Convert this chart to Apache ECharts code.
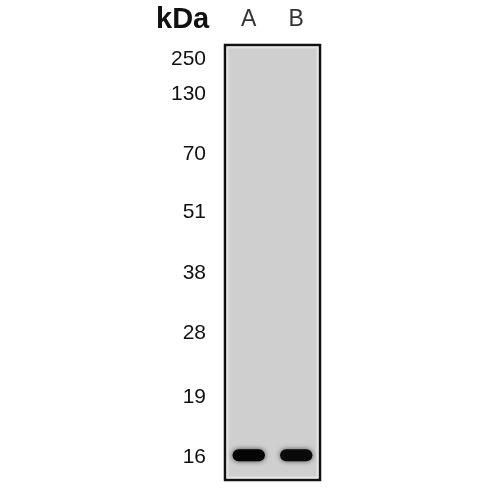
<!DOCTYPE html>
<html>
<head>
<meta charset="utf-8">
<script src="https://cdn.jsdelivr.net/npm/echarts@6/dist/echarts.min.js"></script>
<style>
html,body{margin:0;padding:0;background:#fff;}
#chart{width:500px;height:500px;}
</style>
</head>
<body>
<div id="chart"></div>
<script>
// Lanes
var lanes = ['A', 'B'];
// Ladder markers: molecular weight labels and relative migration (% of blot height from top)
var markerLabels = ['250', '130', '70', '51', '38', '28', '19', '16'];
var markerMigration = [3.2, 11.2, 25.0, 38.5, 52.5, 66.3, 81.0, 94.7];
// Detected bands: lane, relative migration, intensity (0..1)
var bandLanes = ['A', 'B'];
var bandMigration = [94.3, 94.3];
var bandIntensity = [1.0, 0.95];

var chart = echarts.init(document.getElementById('chart'), null, {renderer: 'canvas'});
var FONT = '"Liberation Sans", Arial, sans-serif';

var bandData = bandLanes.map(function (l, i) {
  return [l, bandMigration[i], bandIntensity[i]];
});

var labelMap = {};
markerMigration.forEach(function (v, i) { labelMap[v] = markerLabels[i]; });

chart.setOption({
  animation: false,
  backgroundColor: '#ffffff',
  title: {
    text: 'kDa',
    left: 151,
    top: 0,
    textStyle: {fontFamily: FONT, fontSize: 29, fontWeight: 'bold', color: '#111'}
  },
  grid: {
    left: 225, top: 45, width: 95, height: 435,
    show: true,
    backgroundColor: '#cfcfcf',
    borderColor: '#111',
    borderWidth: 2.5
  },
  xAxis: {
    type: 'category',
    data: lanes,
    position: 'top',
    axisLine: {show: false},
    axisTick: {show: false},
    splitLine: {show: false},
    axisLabel: {fontFamily: FONT, fontSize: 23, color: '#333', margin: 14}
  },
  yAxis: {
    type: 'value',
    inverse: true,
    min: 0,
    max: 100,
    axisLine: {show: false},
    axisTick: {show: false},
    splitLine: {show: false},
    axisLabel: {
      customValues: markerMigration,
      formatter: function (v) { return labelMap[v] !== undefined ? labelMap[v] : ''; },
      fontFamily: FONT,
      fontSize: 21,
      color: '#111',
      margin: 19
    }
  },
  graphic: [{
    type: 'rect',
    shape: {x: 227.5, y: 47.5, width: 90, height: 430},
    style: {fill: 'none', stroke: '#e4e4e4', lineWidth: 2},
    silent: true,
    z: 1
  }],
  series: [{
    type: 'custom',
    data: bandData,
    renderItem: function (params, api) {
      var c = api.coord([api.value(0), api.value(1)]);
      var w = api.size([1, 0])[0] * 0.68;
      var h = 12;
      var a = api.value(2);
      return {
        type: 'rect',
        shape: {x: c[0] - w / 2, y: c[1] - h / 2, width: w, height: h, r: h / 2},
        style: {
          fill: 'rgba(5,5,5,' + a + ')',
          shadowBlur: 5,
          shadowColor: 'rgba(0,0,0,' + (0.7 * a) + ')'
        }
      };
    }
  }]
});
</script>
</body>
</html>
